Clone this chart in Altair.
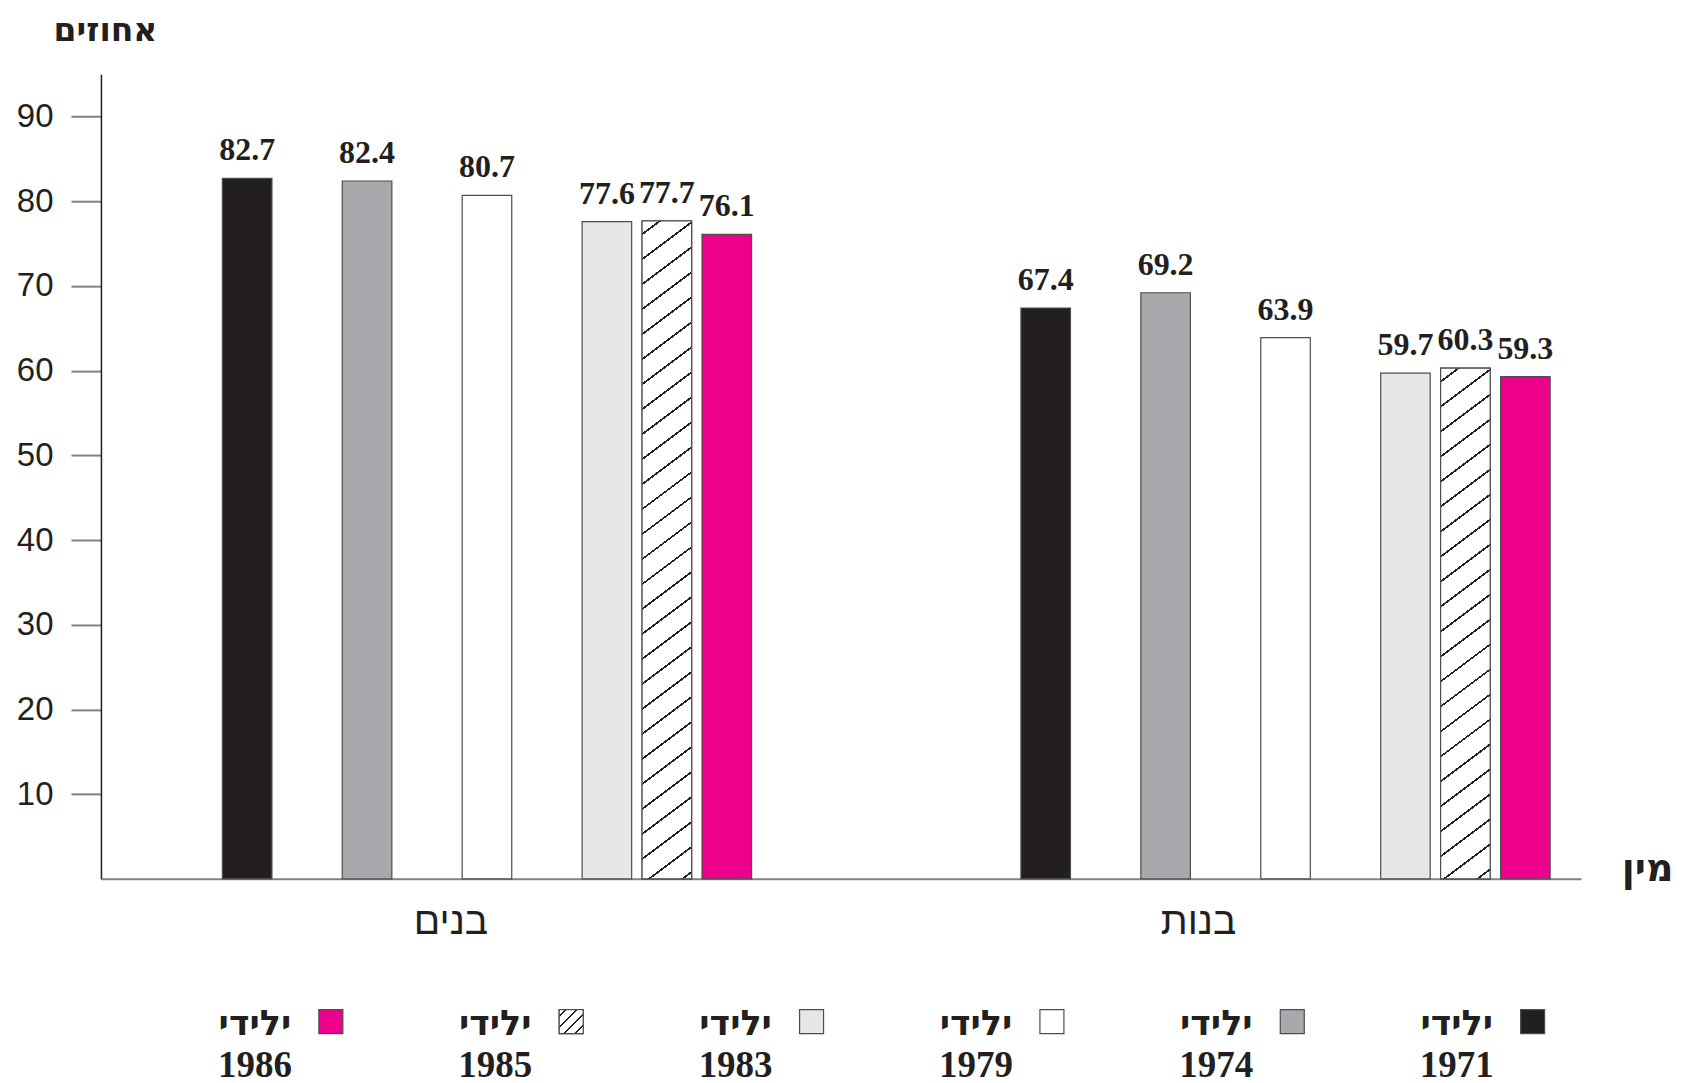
import altair as alt
import pandas as pd

# ---------------- data ----------------
groups = ["בנים", "בנות"]
years = ["1971", "1974", "1979", "1983", "1985", "1986"]
boys = [82.7, 82.4, 80.7, 77.6, 77.7, 76.1]
girls = [67.4, 69.2, 63.9, 59.7, 60.3, 59.3]
legend_order = ["1986", "1985", "1983", "1979", "1974", "1971"]
legend_prefix = "ילידי"
y_title = "אחוזים"
x_title = "מין"
tick_values = [10, 20, 30, 40, 50, 60, 70, 80, 90]

# ---------------- styling ----------------
W, H = 1481, 805
Y_MAX = 95
colors = ["#231f20", "#a7a9ac", "#ffffff", "#e6e7e8", "#ffffff", "#ec008c"]
hatched_year = "1985"
INK = "#231f20"
HEB_BOLD = "DejaVu Sans"
slot_domain = ["1971", "_g1", "1974", "_g2", "1979", "_g3", "1983", "1985", "1986"]
X_PI, X_PO, X_ALIGN = 0.3373, 0.0954, 0.797
O_PI = 0.1736

rows = []
for g, vals in zip(groups, [boys, girls]):
    for yr, v in zip(years, vals):
        rows.append({"group": g, "year": yr, "value": v})
df = pd.DataFrame(rows)

leg_df = pd.DataFrame({"year": legend_order, "prefix": [legend_prefix] * len(legend_order)})


def hatch_gradient(w, h, slope, period, thick, line=INK, bg="#ffffff"):
    r = slope * w / h
    b = (r + 1) / (r * r + 1)
    a = r * b
    total = h + slope * w
    stops = [alt.GradientStop(offset=0, color=bg)]
    k = period * 0.5
    while k < total:
        t0 = round(k / total, 5)
        t1 = round(min((k + thick) / total, 1.0), 5)
        stops += [alt.GradientStop(offset=t0, color=bg), alt.GradientStop(offset=t0, color=line),
                  alt.GradientStop(offset=t1, color=line), alt.GradientStop(offset=t1, color=bg)]
        k += period
    stops.append(alt.GradientStop(offset=1, color=bg))
    return alt.LinearGradient(gradient="linear", stops=stops, x1=0, y1=0, x2=round(a, 5), y2=round(b, 5))


# bar width derived from scale parameters
group_step = W / (len(groups) - X_PI + 2 * X_PO)
group_bw = group_step * (1 - X_PI)
bar_w = group_bw / (len(slot_domain) - O_PI) * (1 - O_PI)

color_scale = alt.Scale(domain=years, range=colors)

x_enc = alt.X(
    "group:N",
    scale=alt.Scale(domain=groups, paddingInner=X_PI, paddingOuter=X_PO, align=X_ALIGN),
    axis=alt.Axis(
        title=x_title, titleX=1547, titleY=-9, titleAngle=0, titleAlign="center",
        titleBaseline="middle", titleFont=HEB_BOLD, titleFontWeight="bold",
        titleFontSize=38, titleColor=INK,
        labelAngle=0, labelFont="Liberation Sans", labelFontSize=39, labelColor=INK,
        labelFontWeight="normal", labelBaseline="middle", labelPadding=43,
        labelOffset={"condition": {"test": "datum.value === 'בנים'", "value": -36}, "value": -87},
        ticks=False, tickSize=0, domainColor="#808285", domainWidth=2, grid=False,
    ),
)
xo_enc = alt.XOffset("year:N", scale=alt.Scale(domain=slot_domain, paddingInner=O_PI, paddingOuter=0))
y_enc = alt.Y(
    "value:Q",
    scale=alt.Scale(domain=[0, Y_MAX], nice=False, zero=True),
    axis=alt.Axis(
        values=tick_values, title=y_title, titleAngle=0, titleX=4, titleY=-44,
        titleAlign="center", titleBaseline="middle", titleFont=HEB_BOLD,
        titleFontWeight="bold", titleFontSize=33, titleColor=INK,
        labelFont="Liberation Sans", labelFontSize=33, labelColor=INK, labelPadding=18,
        tickSize=30, tickColor="#808285", tickWidth=2,
        domainColor=INK, domainWidth=1.5, grid=False,
    ),
)

bars = alt.Chart(df).mark_bar(stroke="#4d4d4f", strokeWidth=1.2).encode(
    x=x_enc, xOffset=xo_enc, y=y_enc,
    color=alt.Color("year:N", scale=color_scale, legend=None),
)

layers = [bars]
for g, vals in zip(groups, [boys, girls]):
    v = vals[years.index(hatched_year)]
    h = v * H / Y_MAX
    grad = hatch_gradient(bar_w, h, slope=0.75, period=25, thick=2.2)
    layers.append(
        alt.Chart(df)
        .transform_filter((alt.datum.year == hatched_year) & (alt.datum.group == g))
        .mark_bar(fill=grad, stroke="#4d4d4f", strokeWidth=1.2)
        .encode(x=x_enc, xOffset=xo_enc, y=y_enc)
    )

labels = alt.Chart(df).mark_text(
    dy=-28, baseline="middle", align="center", font="Liberation Serif",
    fontWeight="bold", fontSize=32, color=INK,
).encode(x=x_enc, xOffset=xo_enc, y=y_enc, text=alt.Text("value:Q", format=".1f"))
layers.append(labels)

main = alt.layer(*layers).properties(width=W, height=H)

# ---------------- legend ----------------
lx = alt.X("year:N", scale=alt.Scale(type="point", domain=legend_order, padding=0.579, align=0.826), axis=None)
sw = alt.Chart(leg_df).mark_square(size=576, filled=True, opacity=1, stroke="#4d4d4f", strokeWidth=1.2).encode(
    x=lx, color=alt.Color("year:N", scale=color_scale, legend=None)
)
sw_h = alt.Chart(leg_df).transform_filter(alt.datum.year == hatched_year).mark_square(
    size=576, filled=True, opacity=1, stroke="#4d4d4f", strokeWidth=1.2,
    fill=hatch_gradient(24, 24, slope=1.0, period=11, thick=1.6),
).encode(x=lx)
t1 = alt.Chart(leg_df).mark_text(
    dx=-76, dy=2, baseline="middle", align="center", font=HEB_BOLD,
    fontWeight="bold", fontSize=35, color=INK,
).encode(x=lx, text="prefix:N")
t2 = alt.Chart(leg_df).mark_text(
    dx=-76, dy=44, baseline="middle", align="center", font="Liberation Serif",
    fontWeight="bold", fontSize=37, color=INK,
).encode(x=lx, text="year:N")
legend = alt.layer(sw, sw_h, t1, t2).properties(width=W, height=40)

chart = (
    alt.vconcat(main, legend, spacing=123, bounds="flush")
    .properties(padding={"left": 8, "top": 6, "right": 5, "bottom": 0}, background="white")
    .configure_view(stroke=None)
)

chart.save("out.html", embed_options={"renderer": "svg", "actions": False})
